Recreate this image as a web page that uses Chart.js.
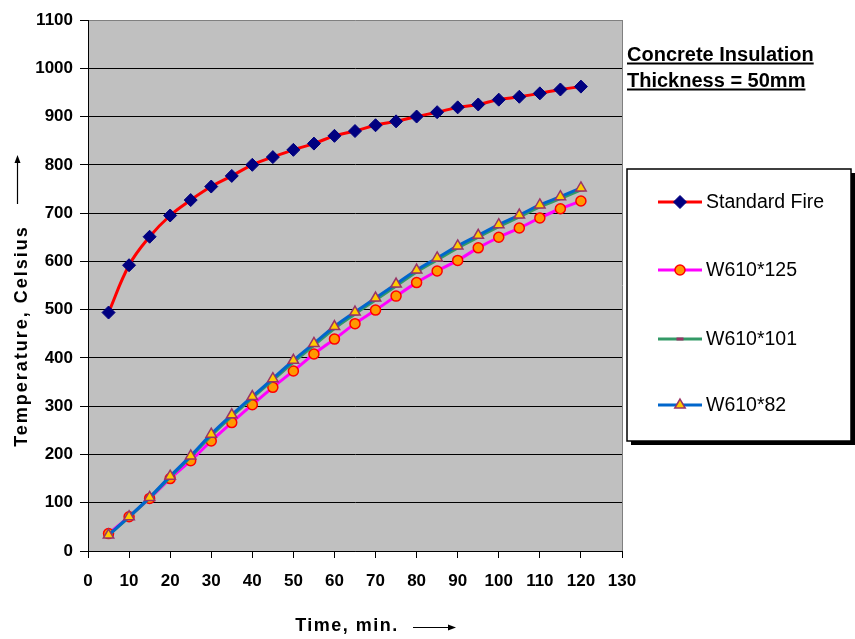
<!DOCTYPE html>
<html>
<head>
<meta charset="utf-8">
<title>Temperature vs Time</title>
<script src="https://cdn.jsdelivr.net/npm/chart.js@4.4.1/dist/chart.umd.min.js"></script>
<style>
    body { margin: 0; background: #fff; }
    #wrap { width: 855px; height: 639px; }
</style>
</head>
<body>
<div id="wrap"><canvas id="tempChart" width="855" height="639"></canvas></div>
<script>
// ----------------- Data -----------------
const timeMin = [5, 10, 15, 20, 25, 30, 35, 40, 45, 50, 55, 60, 65, 70, 75, 80, 85, 90, 95, 100, 105, 110, 115, 120];
const standardFire = [494, 592, 651, 695, 727, 755, 777, 800, 816, 831, 844, 860, 870, 882, 890, 900, 909, 919, 925, 935, 941, 948, 956, 962];
const w610x125 = [36, 71, 109, 150, 187, 228, 266, 303, 339, 373, 408, 439, 471, 499, 528, 556, 580, 602, 628, 650, 669, 690, 709, 725];
const w610x101 = [33, 70, 110, 153, 195, 239, 279, 317, 354, 391, 426, 461, 491, 520, 549, 578, 603, 628, 650, 672, 692, 713, 730, 748];
const w610x82 = [33, 71, 111, 155, 197, 242, 282, 320, 357, 395, 430, 465, 495, 524, 553, 582, 607, 632, 654, 676, 696, 717, 734, 752];

const xTicks = [0, 130, 10];     // min, max, step
const yTicks = [0, 1100, 100];

const seriesNames = ['Standard Fire', 'W610*125', 'W610*101', 'W610*82'];
const noteLines = ['Concrete Insulation', 'Thickness = 50mm'];
const xTitle = 'Time, min.';
const yTitle = 'Temperature, Celsius';

const FONT = 'Arial, "Liberation Sans", sans-serif';

function toPoints(values) {
    return values.map((v, i) => ({ x: timeMin[i], y: v }));
}

// draws one marker the same way the chart does (used for the legend)
function drawMarker(ctx, ds, x, y) {
    const r = ds.pointRadius;
    ctx.save();
    ctx.fillStyle = ds.pointBackgroundColor;
    ctx.strokeStyle = ds.pointBorderColor;
    ctx.lineWidth = ds.pointBorderWidth;
    ctx.beginPath();
    if (ds.pointStyle === 'rectRot') {
        ctx.moveTo(x, y - r); ctx.lineTo(x + r, y); ctx.lineTo(x, y + r); ctx.lineTo(x - r, y);
        ctx.closePath(); ctx.fill(); ctx.stroke();
    } else if (ds.pointStyle === 'circle') {
        ctx.arc(x, y, r, 0, Math.PI * 2); ctx.fill(); ctx.stroke();
    } else if (ds.pointStyle === 'triangle') {
        const h = r * Math.cos(Math.PI / 6);
        ctx.moveTo(x, y - r); ctx.lineTo(x + h, y + r / 2); ctx.lineTo(x - h, y + r / 2);
        ctx.closePath(); ctx.fill(); ctx.stroke();
    } else if (ds.pointStyle === 'line') {
        ctx.moveTo(x - r, y); ctx.lineTo(x + r, y); ctx.stroke();
    }
    ctx.restore();
}

function arrowHead(ctx, x, y, dir) {
    // dir: 'up' or 'right'
    ctx.beginPath();
    if (dir === 'up') {
        ctx.moveTo(x, y); ctx.lineTo(x - 3, y + 8); ctx.lineTo(x + 3, y + 8);
    } else {
        ctx.moveTo(x, y); ctx.lineTo(x - 8, y - 3); ctx.lineTo(x - 8, y + 3);
    }
    ctx.closePath();
    ctx.fill();
}

// ----------------- Extra drawing: plot background, titles, legend -----------------
const decorPlugin = {
    id: 'decor',
    beforeDraw(chart) {
        const { ctx, chartArea: a } = chart;
        ctx.save();
        ctx.fillStyle = '#C0C0C0';
        ctx.fillRect(a.left, a.top, a.right - a.left, a.bottom - a.top);
        ctx.restore();
    },
    afterDraw(chart) {
        const { ctx, chartArea: a } = chart;
        ctx.save();

        // right frame of the plot area
        ctx.strokeStyle = '#808080';
        ctx.lineWidth = 1;
        ctx.beginPath();
        ctx.moveTo(a.right + 0.5, a.top);
        ctx.lineTo(a.right + 0.5, a.bottom);
        ctx.stroke();

        ctx.fillStyle = '#000';
        ctx.strokeStyle = '#000';

        // y axis title + arrow
        ctx.save();
        ctx.translate(22, 336);
        ctx.rotate(-Math.PI / 2);
        ctx.font = 'bold 18px ' + FONT;
        ctx.letterSpacing = '2px';
        ctx.textAlign = 'center';
        ctx.textBaseline = 'middle';
        ctx.fillText(yTitle, 0, 0);
        ctx.restore();
        ctx.lineWidth = 1.2;
        ctx.beginPath();
        ctx.moveTo(17.5, 204);
        ctx.lineTo(17.5, 160);
        ctx.stroke();
        arrowHead(ctx, 17.5, 155, 'up');

        // x axis title + arrow
        ctx.save();
        ctx.font = 'bold 18px ' + FONT;
        ctx.letterSpacing = '1.5px';
        ctx.textAlign = 'center';
        ctx.textBaseline = 'middle';
        ctx.fillText(xTitle, 347, 626);
        ctx.restore();
        ctx.beginPath();
        ctx.moveTo(413, 627.5);
        ctx.lineTo(450, 627.5);
        ctx.stroke();
        arrowHead(ctx, 456, 627.5, 'right');

        // note text, bold and underlined
        ctx.font = 'bold 20px ' + FONT;
        ctx.textAlign = 'left';
        ctx.textBaseline = 'alphabetic';
        const noteY = [61, 87];
        noteLines.forEach((line, i) => {
            ctx.fillText(line, 627, noteY[i]);
            const w = ctx.measureText(line).width;
            ctx.fillRect(627, noteY[i] + 1.5, w, 2);
        });

        // legend box with shadow
        const box = { x: 627, y: 169, w: 224, h: 272 };
        ctx.fillStyle = '#000';
        ctx.fillRect(box.x + 4, box.y + 4, box.w, box.h);
        ctx.fillStyle = '#fff';
        ctx.fillRect(box.x, box.y, box.w, box.h);
        ctx.strokeStyle = '#000';
        ctx.lineWidth = 1.5;
        ctx.strokeRect(box.x, box.y, box.w, box.h);

        const rowY = [202, 270, 339, 405];
        ctx.font = '19.5px ' + FONT;
        ctx.textBaseline = 'middle';
        chart.data.datasets.forEach((ds, i) => {
            const y = rowY[i];
            ctx.strokeStyle = ds.borderColor;
            ctx.lineWidth = ds.borderWidth;
            ctx.beginPath();
            ctx.moveTo(658, y);
            ctx.lineTo(702, y);
            ctx.stroke();
            drawMarker(ctx, ds, 680, y);
            ctx.fillStyle = '#000';
            ctx.fillText(ds.label, 706, y + 1);
        });

        ctx.restore();
    }
};

const ctx = document.getElementById('tempChart').getContext('2d');

const tempChart = new Chart(ctx, {
    type: 'line',
    data: {
        datasets: [
            {
                label: seriesNames[0],
                data: toPoints(standardFire),
                borderColor: '#FF0000',
                borderWidth: 3,
                pointStyle: 'rectRot',
                pointRadius: 6.5,
                pointBackgroundColor: '#000080',
                pointBorderColor: '#000080',
                pointBorderWidth: 1,
                tension: 0.4,
                order: 3
            },
            {
                label: seriesNames[1],
                data: toPoints(w610x125),
                borderColor: '#FF00FF',
                borderWidth: 3,
                pointStyle: 'circle',
                pointRadius: 5,
                pointBackgroundColor: '#FF9900',
                pointBorderColor: '#FF0000',
                pointBorderWidth: 1.5,
                tension: 0.4,
                order: 2
            },
            {
                label: seriesNames[2],
                data: toPoints(w610x101),
                borderColor: '#339966',
                borderWidth: 3,
                pointStyle: 'line',
                pointRadius: 3.5,
                pointBackgroundColor: '#993366',
                pointBorderColor: '#993366',
                pointBorderWidth: 3,
                tension: 0.4,
                order: 1
            },
            {
                label: seriesNames[3],
                data: toPoints(w610x82),
                borderColor: '#0066CC',
                borderWidth: 3,
                pointStyle: 'triangle',
                pointRadius: 6,
                pointBackgroundColor: '#FFCC00',
                pointBorderColor: '#993366',
                pointBorderWidth: 1.5,
                tension: 0.4,
                order: 0
            }
        ]
    },
    options: {
        responsive: false,
        animation: false,
        layout: { padding: { left: 0, top: 20, right: 233, bottom: 0 } },
        plugins: {
            legend: { display: false },
            tooltip: { enabled: false }
        },
        scales: {
            x: {
                type: 'linear',
                min: xTicks[0],
                max: xTicks[1],
                afterFit: scale => { scale.height = 88; },
                ticks: {
                    stepSize: xTicks[2],
                    color: '#000',
                    padding: 13,
                    maxRotation: 0,
                    callback: v => String(v),
                    font: { family: FONT, size: 17, weight: 'bold' }
                },
                grid: {
                    drawOnChartArea: false,
                    drawTicks: true,
                    tickLength: 7,
                    tickColor: '#000'
                },
                border: { color: '#000', width: 1 }
            },
            y: {
                min: yTicks[0],
                max: yTicks[1],
                afterFit: scale => { scale.width = 88; },
                ticks: {
                    stepSize: yTicks[2],
                    color: '#000',
                    padding: 7,
                    callback: v => String(v),
                    font: { family: FONT, size: 17, weight: 'bold' }
                },
                grid: {
                    color: c => (c.tick && c.tick.value === yTicks[1]) ? '#808080' : '#000',
                    lineWidth: 1,
                    drawTicks: true,
                    tickLength: 8,
                    tickColor: '#000'
                },
                border: { color: '#000', width: 1 }
            }
        }
    },
    plugins: [decorPlugin]
});
</script>
</body>
</html>
